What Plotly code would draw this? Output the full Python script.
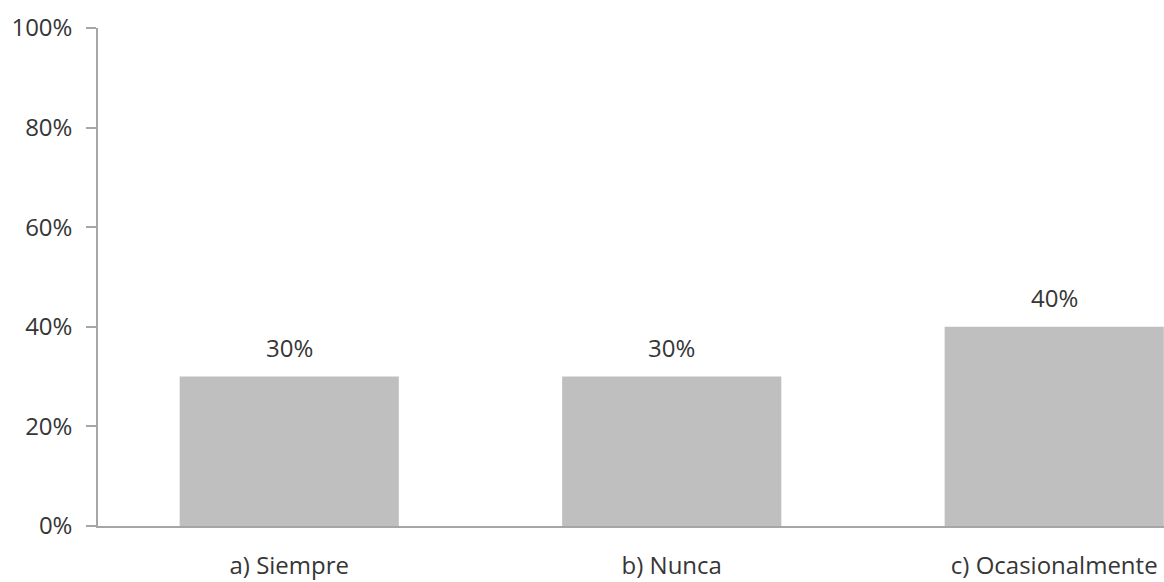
import plotly.graph_objects as go

# Survey response shares
categories = ["a) Siempre", "b) Nunca", "c) Ocasionalmente"]
shares = [0.30, 0.30, 0.40]
share_labels = ["30%", "30%", "40%"]
y_ticks = [0, 0.2, 0.4, 0.6, 0.8, 1.0]
y_tick_labels = ["0%", "20%", "40%", "60%", "80%", "100%"]

FONT = "Open Sans"
TEXT_COLOR = "#363636"
AXIS_COLOR = "#a6a6a6"
SIZE = 24

fig = go.Figure(
    go.Bar(
        x=list(range(len(categories))),
        y=shares,
        marker=dict(color="#bfbfbf", line=dict(width=0)),
        hoverinfo="skip",
    )
)

for i, (v, lbl) in enumerate(zip(shares, share_labels)):
    fig.add_annotation(
        x=i, y=v, text=lbl, showarrow=False,
        yanchor="bottom", yshift=11,
        font=dict(family=FONT, size=SIZE, color=TEXT_COLOR),
    )

fig.update_layout(
    width=1164, height=582,
    margin=dict(l=98, r=0, t=28, b=56),
    paper_bgcolor="white", plot_bgcolor="white",
    bargap=0.427,
    showlegend=False,
    font=dict(family=FONT, size=SIZE, color=TEXT_COLOR),
)

fig.update_xaxes(
    range=[-0.5, 2.287],
    tickmode="array",
    tickvals=list(range(len(categories))),
    ticktext=categories,
    ticks="",
    showline=True, linecolor=AXIS_COLOR, linewidth=1.5,
    showgrid=False, zeroline=False,
    automargin=False,
    ticklabelstandoff=17,
    tickfont=dict(family=FONT, size=SIZE, color=TEXT_COLOR),
)

fig.update_yaxes(
    range=[0, 1.0],
    tickmode="array",
    tickvals=y_ticks,
    ticktext=y_tick_labels,
    ticks="outside", ticklen=10, tickcolor=AXIS_COLOR, tickwidth=1.5,
    showline=True, linecolor=AXIS_COLOR, linewidth=1.5,
    showgrid=False, zeroline=False,
    ticklabelstandoff=9,
    tickfont=dict(family=FONT, size=SIZE, color=TEXT_COLOR),
)

fig.write_html("out.html", config={"displayModeBar": False})
